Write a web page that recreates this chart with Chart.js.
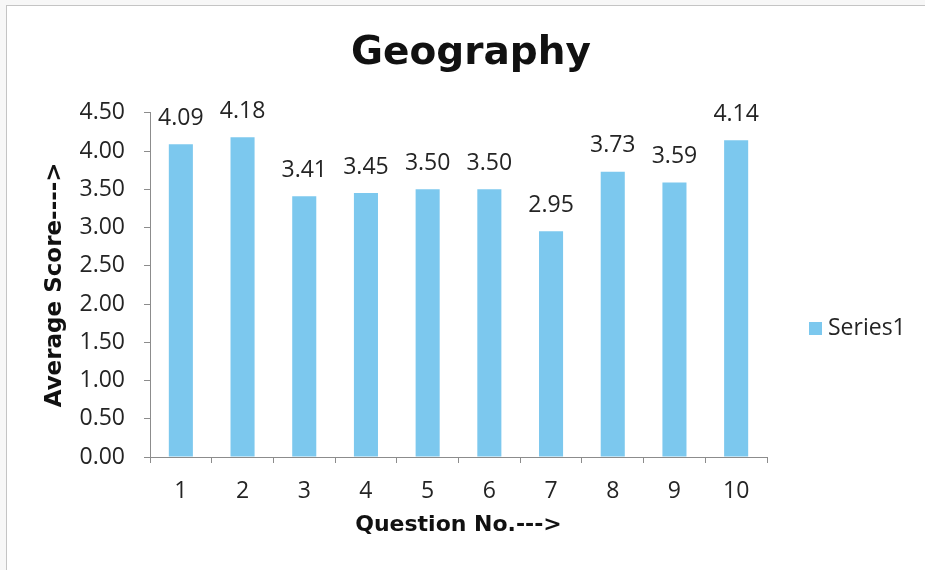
<!DOCTYPE html>
<html>
<head>
<meta charset="utf-8">
<title>Geography</title>
<script src="https://cdn.jsdelivr.net/npm/chart.js@4.4.1/dist/chart.umd.min.js"></script>
<style>
    html, body { margin: 0; padding: 0; background: #f7f7f7; }
    .wrap { position: relative; width: 925px; height: 570px; overflow: hidden; }
    .frame { position: absolute; left: 6px; top: 5px; width: 960px; height: 620px; border: 1px solid #c4c4c4; background: #fff; }
    canvas { position: absolute; left: 0; top: 0; }
</style>
</head>
<body>
<div class="wrap">
    <div class="frame"></div>
    <canvas id="geoChart" width="925" height="570"></canvas>
</div>
<script>
const questions = ['1', '2', '3', '4', '5', '6', '7', '8', '9', '10'];
const averageScores = [4.09, 4.18, 3.41, 3.45, 3.50, 3.50, 2.95, 3.73, 3.59, 4.14];
const scoreTicks = [0, 0.5, 1, 1.5, 2, 2.5, 3, 3.5, 4, 4.5];
const seriesName = 'Series1';

const barColor = '#7cc8ee';
const textColor = '#242424';
const axisGray = '#8c8c8c';
const labelFont = { family: '"Open Sans", sans-serif', size: 23 };
const boldFont = (size) => ({ family: '"DejaVu Sans", sans-serif', size: size, weight: 'bold' });

// value printed above each bar
const barValues = {
    id: 'barValues',
    afterDatasetsDraw(chart) {
        const ctx = chart.ctx;
        const meta = chart.getDatasetMeta(0);
        ctx.save();
        ctx.font = `${labelFont.size}px ${labelFont.family}`;
        ctx.fillStyle = textColor;
        ctx.textAlign = 'center';
        ctx.textBaseline = 'middle';
        meta.data.forEach((bar, i) => {
            ctx.fillText(chart.data.datasets[0].data[i].toFixed(2), bar.x, bar.y - 26);
        });
        ctx.restore();
    }
};

// legend as its own layout box on the right, so the title still centres on the whole canvas
const sideLegend = {
    id: 'sideLegend',
    start(chart) {
        const box = {
            position: 'right',
            weight: 0,
            fullSize: false,
            options: {},
            top: 0, left: 0, right: 0, bottom: 0, width: 0, height: 0,
            isHorizontal() { return false; },
            update(maxWidth, maxHeight) {
                this.width = 158;
                this.height = maxHeight;
            },
            draw() {
                const ctx = chart.ctx;
                const ds = chart.data.datasets[0];
                const x = this.left + 42;
                const y = 328;
                ctx.save();
                ctx.fillStyle = ds.backgroundColor;
                ctx.fillRect(x, y - 6, 13, 13);
                ctx.font = `${labelFont.size}px ${labelFont.family}`;
                ctx.fillStyle = textColor;
                ctx.textAlign = 'left';
                ctx.textBaseline = 'middle';
                ctx.fillText(ds.label, x + 19, y);
                ctx.restore();
            }
        };
        Chart.layouts.addBox(chart, box);
    }
};

new Chart(document.getElementById('geoChart'), {
    type: 'bar',
    data: {
        labels: questions,
        datasets: [{
            label: seriesName,
            data: averageScores,
            backgroundColor: barColor,
            barPercentage: 0.39,
            categoryPercentage: 1.0
        }]
    },
    options: {
        responsive: false,
        animation: false,
        layout: { padding: { top: 0, right: 0, bottom: 0, left: 17 } },
        plugins: {
            legend: { display: false },
            tooltip: { enabled: false },
            title: {
                display: true,
                text: 'Geography',
                font: boldFont(39),
                color: '#111',
                padding: { top: 30, bottom: 36 }
            }
        },
        scales: {
            x: {
                grid: { drawOnChartArea: false, tickLength: 6, color: axisGray },
                border: { color: axisGray },
                ticks: { font: labelFont, color: textColor, padding: 15 },
                title: {
                    display: true,
                    text: 'Question No.--->',
                    font: boldFont(22),
                    color: '#111',
                    padding: { top: 32, bottom: 32 }
                },
                afterFit(scale) { scale.height = 113; }
            },
            y: {
                min: 0,
                max: 4.5,
                afterBuildTicks(scale) {
                    scale.ticks = scoreTicks.map(v => ({ value: v }));
                },
                grid: { drawOnChartArea: false, tickLength: 6, color: axisGray },
                border: { color: axisGray },
                ticks: {
                    font: labelFont,
                    color: textColor,
                    padding: 19,
                    callback: (v) => Number(v).toFixed(2)
                },
                title: {
                    display: true,
                    text: 'Average Score---->',
                    font: boldFont(23),
                    color: '#111',
                    padding: { top: 24, bottom: 0 }
                },
                afterFit(scale) { scale.width = 133; }
            }
        }
    },
    plugins: [barValues, sideLegend]
});
</script>
</body>
</html>
